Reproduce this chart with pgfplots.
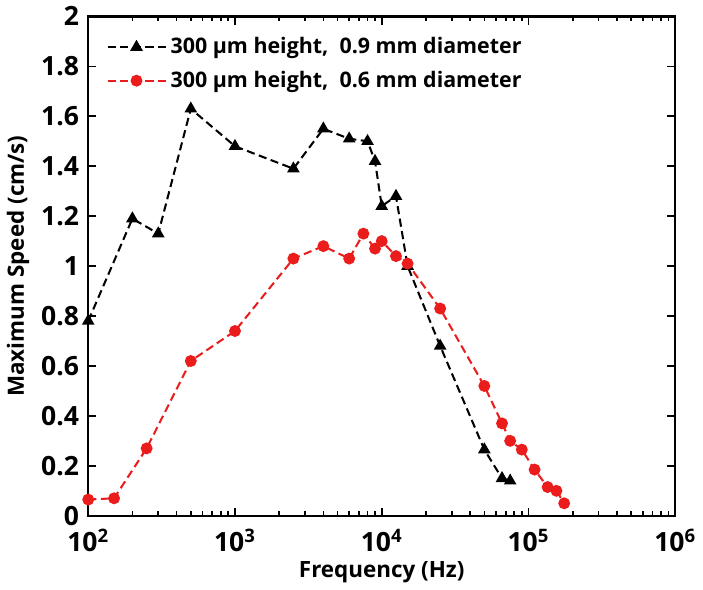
\documentclass[border=0pt]{standalone}
\usepackage{pgfplots}
\pgfplotsset{compat=1.18}
\usepackage{fontspec}
\setmainfont{Open Sans}
\definecolor{redline}{RGB}{235, 28, 28}

\begin{document}
\begin{tikzpicture}
\begin{axis}[
    scale only axis,
    width=288pt, height=245pt,
    xmode=log,
    xmin=100, xmax=1e6,
    ymin=0, ymax=2,
    ytick={0,0.2,...,2},
    xtick={100,1000,10000,100000,1000000},
    xticklabels={10\textsuperscript{2},10\textsuperscript{3},10\textsuperscript{4},10\textsuperscript{5},10\textsuperscript{6}},
    /pgf/number format/assume math mode=true,
    yticklabel style={/pgf/number format/fixed, xshift=-1pt},
    xticklabel style={yshift=-3pt},
    tick label style={font=\fontsize{13}{15}\selectfont\bfseries},
    label style={font=\fontsize{11}{13}\selectfont\bfseries},
    xlabel={Frequency (Hz)},
    ylabel={Maximum Speed (cm/s)},
    xlabel style={yshift=2pt},
    ylabel style={yshift=-1pt},
    axis line style={line width=1.1pt},
    tick align=inside,
    tick style={line width=0.8pt, black},
    major tick length=4pt,
    minor tick length=2.5pt,
    legend style={draw=none, fill=none, at={(0.02,0.975)}, anchor=north west,
        font=\fontsize{10.5}{12}\selectfont\bfseries, row sep=3pt},
    legend cell align=left,
    legend image code/.code={
        \draw[mark repeat=2, mark phase=2] plot coordinates {(0cm,0cm) (0.5cm,0cm) (1cm,0cm)};
    },
]
\addplot[black, line width=1pt, dash pattern=on 4pt off 2.2pt, mark=triangle*, mark size=2.6pt,
    mark options={solid}] coordinates {
    (100,0.78) (200,1.19) (300,1.13) (500,1.63) (1000,1.48) (2500,1.39)
    (4000,1.55) (6000,1.51) (8000,1.50) (9000,1.42) (10000,1.24) (12500,1.28)
    (15000,1.00) (25000,0.68) (50000,0.265) (66000,0.15) (75000,0.14)
};
\addlegendentry{300 µm height,\ \ 0.9 mm diameter}
\addplot[redline, line width=1pt, dash pattern=on 4pt off 2.2pt, mark=*, mark size=2.4pt,
    mark options={solid}] coordinates {
    (100,0.065) (150,0.07) (250,0.27) (500,0.62) (1000,0.74) (2500,1.03)
    (4000,1.08) (6000,1.03) (7500,1.13) (9000,1.07) (10000,1.10) (12500,1.04)
    (15000,1.01) (25000,0.83) (50000,0.52) (66000,0.37) (75000,0.30)
    (90000,0.265) (110000,0.185) (135000,0.115) (155000,0.10) (175000,0.05)
};
\addlegendentry{300 µm height,\ \ 0.6 mm diameter}
\end{axis}
\end{tikzpicture}
\end{document}
